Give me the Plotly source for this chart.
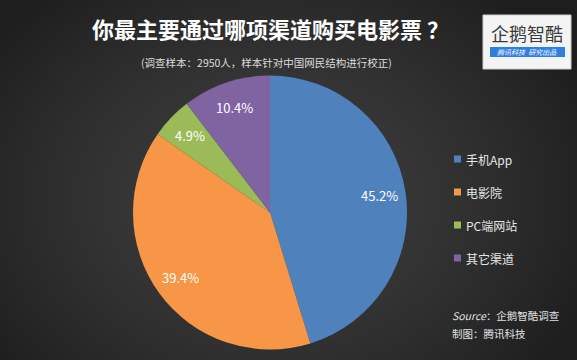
import base64, struct, zlib, math
import numpy as np
import plotly.graph_objects as go

categories = ["手机App", "电影院", "PC端网站", "其它渠道"]
values = [45.2, 39.4, 4.9, 10.4]
colors = ["#4f81bd", "#f79646", "#9bbb59", "#8064a2"]
title = "你最主要通过哪项渠道购买电影票 ？"
subtitle = "(调查样本：2950人，样本针对中国网民结构进行校正)"
source_lines = ["<i>Source</i>：企鹅智酷调查", "制图：腾讯科技"]

W, H = 577, 360
FONT = "Noto Sans CJK SC"


def gradient_png(w, h):
    yy, xx = np.mgrid[0:h, 0:w]
    cx, cy = w * 0.47, h * 0.55
    d = np.sqrt(((xx - cx) / (w * 0.6)) ** 2 + ((yy - cy) / (h * 0.75)) ** 2)
    d = np.clip(d, 0, 1)
    v = (62 - 32 * d ** 1.5).astype(np.uint8)
    rgb = np.stack([v, v, v], axis=-1)
    raw = b"".join(b"\x00" + rgb[r].tobytes() for r in range(h))

    def chunk(t, data):
        c = struct.pack(">I", len(data)) + t + data
        return c + struct.pack(">I", zlib.crc32(t + data) & 0xFFFFFFFF)

    png = b"\x89PNG\r\n\x1a\n"
    png += chunk(b"IHDR", struct.pack(">IIBBBBB", w, h, 8, 2, 0, 0, 0))
    png += chunk(b"IDAT", zlib.compress(raw, 9))
    png += chunk(b"IEND", b"")
    return "data:image/png;base64," + base64.b64encode(png).decode()


def px(x, y):
    return x / W, 1 - y / H


# pie placement (pixels)
PX0, PX1, PY0, PY1 = 133, 407, 75, 350
pcx, pcy = (PX0 + PX1) / 2, (PY0 + PY1) / 2
prad = min(PX1 - PX0, PY1 - PY0) / 2

fig = go.Figure()
fig.add_trace(go.Pie(
    labels=categories,
    values=values,
    textinfo="none",
    hoverinfo="skip",
    marker=dict(colors=colors, line=dict(width=0)),
    sort=False,
    direction="clockwise",
    rotation=0,
    hole=0,
    showlegend=False,
    domain=dict(x=[PX0 / W, PX1 / W], y=[1 - PY1 / H, 1 - PY0 / H]),
))

annotations = []
shapes = []

# data labels along each slice bisector
total = sum(values)
cum = 0.0
for v in values:
    mid = (cum + v / 2) / total * 2 * math.pi
    cum += v
    lx, ly = px(pcx + 0.81 * prad * math.sin(mid), pcy - 0.81 * prad * math.cos(mid))
    annotations.append(dict(text=f"{v}%", x=lx, y=ly, xref="paper", yref="paper",
                            showarrow=False, font=dict(size=13, color="white", family=FONT),
                            xanchor="center", yanchor="middle"))

# title & subtitle
tx, ty = px(270, 28)
annotations.append(dict(text=f"<b>{title}</b>", x=tx, y=ty, xref="paper", yref="paper",
                        showarrow=False, font=dict(size=22, color="white", family=FONT),
                        xanchor="center", yanchor="middle"))
sx, sy = px(266, 62)
annotations.append(dict(text=subtitle, x=sx, y=sy, xref="paper", yref="paper",
                        showarrow=False, font=dict(size=10.5, color="#dcdcdc", family=FONT),
                        xanchor="center", yanchor="middle"))

# legend
for i, (cat, col) in enumerate(zip(categories, colors)):
    yc = 159 + 33 * i
    x0, y0 = px(454, yc - 3.5)
    x1, y1 = px(461, yc + 3.5)
    shapes.append(dict(type="rect", xref="paper", yref="paper", x0=x0, x1=x1, y0=y1, y1=y0,
                       fillcolor=col, line=dict(width=0)))
    lx, ly = px(464, yc)
    annotations.append(dict(text=cat, x=lx, y=ly, xref="paper", yref="paper", showarrow=False,
                            font=dict(size=12, color="#e6e6e6", family=FONT),
                            xanchor="left", yanchor="middle"))

# source
for i, line in enumerate(source_lines):
    lx, ly = px(450, 315 + 18 * i)
    annotations.append(dict(text=line, x=lx, y=ly, xref="paper", yref="paper", showarrow=False,
                            font=dict(size=10.5, color="#e0e0e0", family=FONT),
                            xanchor="left", yanchor="middle"))

# logo
bx0, by0 = px(483, 15)
bx1, by1 = px(571, 69)
shapes.append(dict(type="rect", xref="paper", yref="paper", x0=bx0, x1=bx1, y0=by1, y1=by0,
                   fillcolor="#f4f4f4", line=dict(color="#cfcfcf", width=1)))
gx0, gy0 = px(490, 47)
gx1, gy1 = px(565, 57)
shapes.append(dict(type="rect", xref="paper", yref="paper", x0=gx0, x1=gx1, y0=gy1, y1=gy0,
                   fillcolor="#2f7ee0", line=dict(width=0)))
lx, ly = px(527, 33)
annotations.append(dict(text="企鹅智酷", x=lx, y=ly, xref="paper", yref="paper", showarrow=False,
                        font=dict(size=18, color="#3a3a3a", family=FONT),
                        xanchor="center", yanchor="middle"))
lx, ly = px(527, 52)
annotations.append(dict(text="<i>腾讯科技  研究出品</i>", x=lx, y=ly, xref="paper", yref="paper",
                        showarrow=False, font=dict(size=7, color="white", family=FONT),
                        xanchor="center", yanchor="middle"))

fig.update_layout(
    width=W, height=H,
    margin=dict(l=0, r=0, t=0, b=0),
    paper_bgcolor="#323232",
    plot_bgcolor="#323232",
    font=dict(family=FONT),
    annotations=annotations,
    shapes=shapes,
    images=[dict(source=gradient_png(W, H), xref="paper", yref="paper", x=0, y=1,
                 sizex=1, sizey=1, xanchor="left", yanchor="top", sizing="stretch",
                 layer="below")],
)

fig.write_html("out.html", config={"displayModeBar": False},
               post_script="document.body.style.margin='0';document.body.style.overflow='hidden';")
